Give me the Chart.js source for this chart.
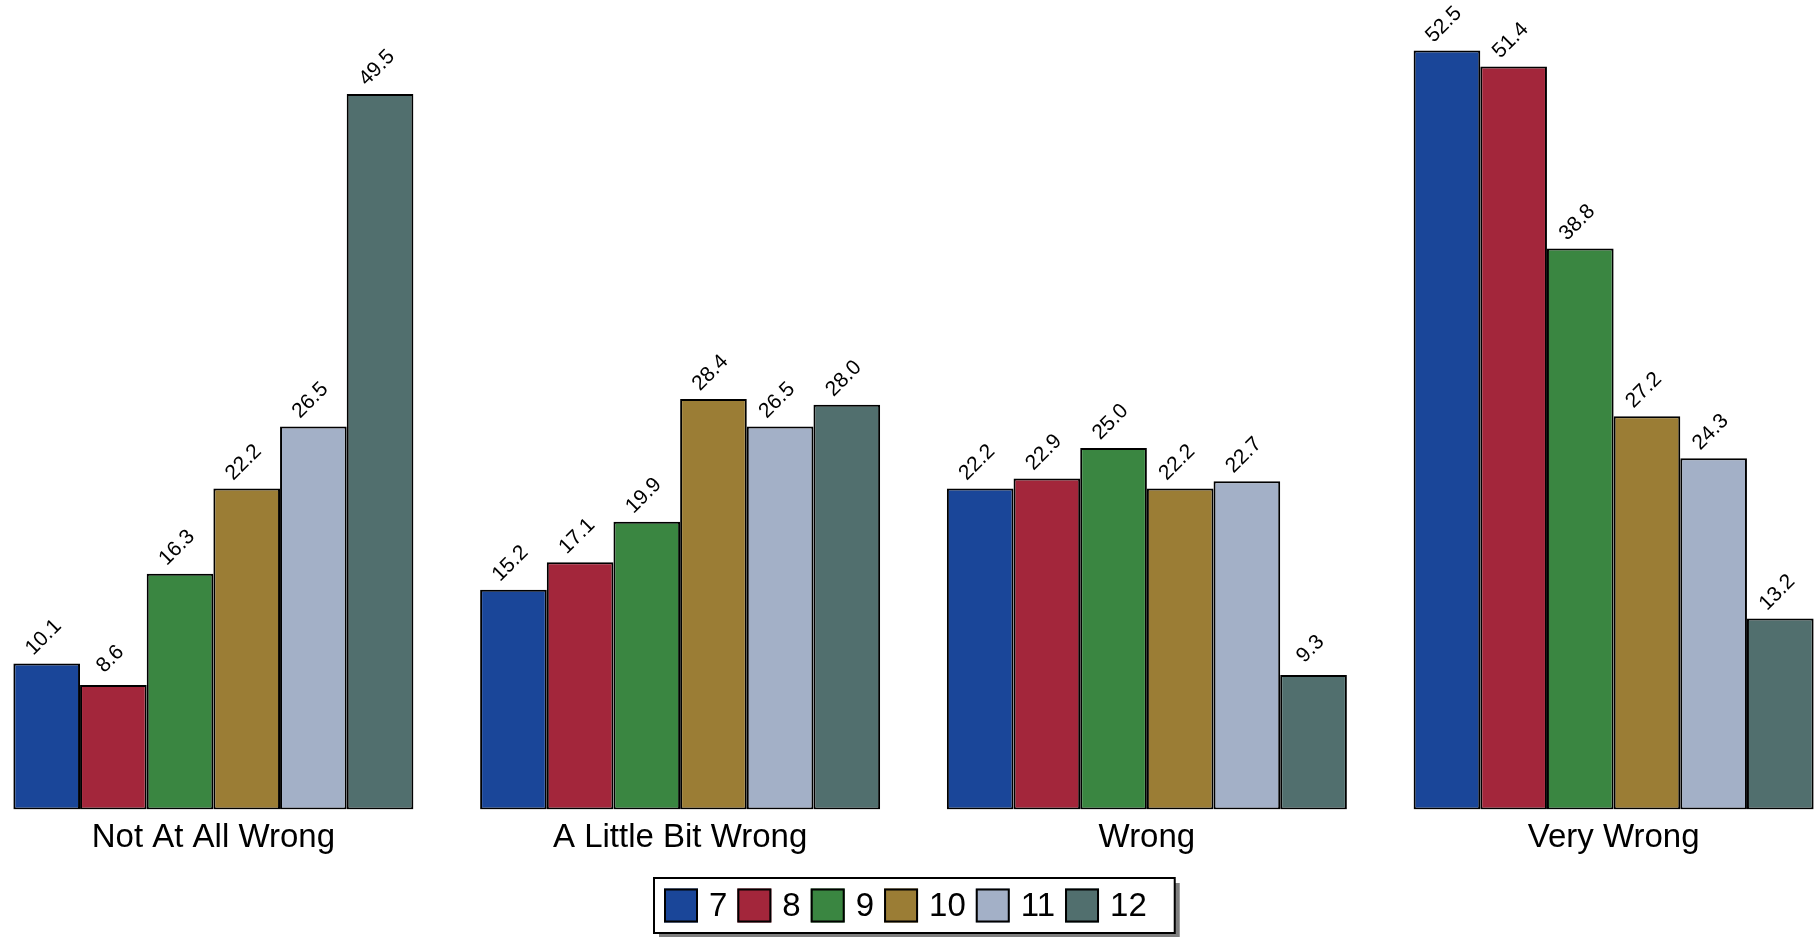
<!DOCTYPE html>
<html>
<head>
<meta charset="utf-8">
<script src="https://cdn.jsdelivr.net/npm/chart.js@4"></script>
<style>
  html, body { margin: 0; padding: 0; background: #fff; overflow: hidden; }
  #wrap { position: absolute; left: -20px; top: 0; width: 1867px; height: 937px; }
</style>
</head>
<body>
<div id="wrap"><canvas id="barChart"></canvas></div>
<script>
const categories = ['Not At All Wrong', 'A Little Bit Wrong', 'Wrong', 'Very Wrong'];
const seriesNames = ['7', '8', '9', '10', '11', '12'];
const grade7 = [10.1, 15.2, 22.2, 52.5];
const grade8 = [8.6, 17.1, 22.9, 51.4];
const grade9 = [16.3, 19.9, 25.0, 38.8];
const grade10 = [22.2, 28.4, 22.2, 27.2];
const grade11 = [26.5, 26.5, 22.7, 24.3];
const grade12 = [49.5, 28.0, 9.3, 13.2];
const colors = ['#1a4699', '#a3263b', '#3a8641', '#9b7d35', '#a3b0c7', '#516f6e'];

const FONT = '"Liberation Sans", Arial, sans-serif';

// value labels, rotated 45 degrees above each bar
const valueLabels = {
    id: 'valueLabels',
    afterDatasetsDraw(chart) {
        const ctx = chart.ctx;
        ctx.save();
        ctx.font = '21px ' + FONT;
        ctx.fillStyle = '#000';
        ctx.textAlign = 'center';
        ctx.textBaseline = 'middle';
        chart.data.datasets.forEach((ds, i) => {
            chart.getDatasetMeta(i).data.forEach((bar, j) => {
                ctx.save();
                ctx.translate(bar.x - 3, bar.y - 26);
                ctx.rotate(-Math.PI / 4);
                ctx.fillText(ds.data[j].toFixed(1), 0, 0);
                ctx.restore();
            });
        });
        ctx.restore();
    }
};

// boxed legend with drop shadow, like the original
const boxLegend = {
    id: 'boxLegend',
    afterDraw(chart) {
        const ctx = chart.ctx;
        ctx.save();
        ctx.font = '33px ' + FONT;
        const sw = 34, gapText = 11, gapItem = 10, padL = 10, padR = 28;
        let w = padL + padR;
        chart.data.datasets.forEach((ds, i) => {
            w += sw + gapText + ctx.measureText(ds.label).width;
            if (i < chart.data.datasets.length - 1) w += gapItem;
        });
        const h = 55;
        const left = 674, top = 878;
        // shadow
        ctx.fillStyle = '#7f7f7f';
        ctx.fillRect(left + 5, top + 5, w, h);
        ctx.fillStyle = '#fff';
        ctx.fillRect(left, top, w, h);
        ctx.lineWidth = 2;
        ctx.strokeStyle = '#000';
        ctx.strokeRect(left, top, w, h);
        let x = left + padL;
        const cy = top + h / 2;
        ctx.textBaseline = 'middle';
        ctx.textAlign = 'left';
        chart.data.datasets.forEach((ds) => {
            ctx.fillStyle = ds.backgroundColor;
            ctx.fillRect(x, cy - sw / 2, sw, sw);
            ctx.strokeRect(x + 1, cy - sw / 2 + 1, sw - 2, sw - 2);
            x += sw + gapText;
            ctx.fillStyle = '#000';
            ctx.fillText(ds.label, x, cy + 1);
            x += ctx.measureText(ds.label).width + gapItem;
        });
        ctx.restore();
    }
};

const allSeries = [grade7, grade8, grade9, grade10, grade11, grade12];

const ctx = document.getElementById('barChart').getContext('2d');
new Chart(ctx, {
    type: 'bar',
    data: {
        labels: categories,
        datasets: allSeries.map((vals, i) => ({
            label: seriesNames[i],
            data: vals,
            backgroundColor: colors[i],
            borderColor: '#000',
            borderWidth: 2,
            borderSkipped: false,
            categoryPercentage: 0.857,
            barPercentage: 1.0
        }))
    },
    options: {
        responsive: true,
        maintainAspectRatio: false,
        animation: false,
        layout: { padding: { top: 0, bottom: 78, left: 0, right: 0 } },
        scales: {
            x: {
                grid: { display: false },
                border: { display: false },
                ticks: {
                    color: '#000',
                    padding: 1,
                    font: { family: FONT, size: 33 }
                }
            },
            y: {
                display: false,
                min: 0,
                max: 56
            }
        },
        plugins: {
            legend: { display: false },
            tooltip: { enabled: false }
        }
    },
    plugins: [valueLabels, boxLegend]
});
</script>
</body>
</html>
